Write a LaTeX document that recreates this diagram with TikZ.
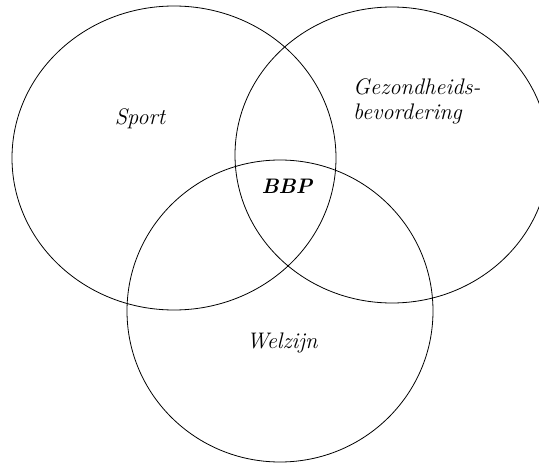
\documentclass[tikz,border=0pt]{standalone}
\usepackage{tikz}

\begin{document}
\begin{tikzpicture}[x=1pt,y=-1pt,
  setname/.style={font=\fontsize{22.5}{25}\selectfont\itshape, inner sep=0pt}]
  \useasboundingbox (0,0) rectangle (539,463);
  \clip (0,0) rectangle (539,463);
  \begin{scope}[line width=0.8pt]
   \draw[black] (174,158) ellipse (162 and 152);
   \draw[black] (392,155) ellipse (157 and 148);
   \draw[black] (280,311) ellipse (153 and 151);
  \end{scope}
  \node[setname] (sport) at (140,119) {Sport};
  \node[setname, anchor=west, align=left] (gezond) at (353,101) {Gezondheids-\\bevordering};
  \node[setname, font=\fontsize{21}{25}\selectfont\bfseries\itshape] (bbp) at (287,186) {BBP};
  \node[setname] (welzijn) at (282,343) {Welzijn};
\end{tikzpicture}
\end{document}
